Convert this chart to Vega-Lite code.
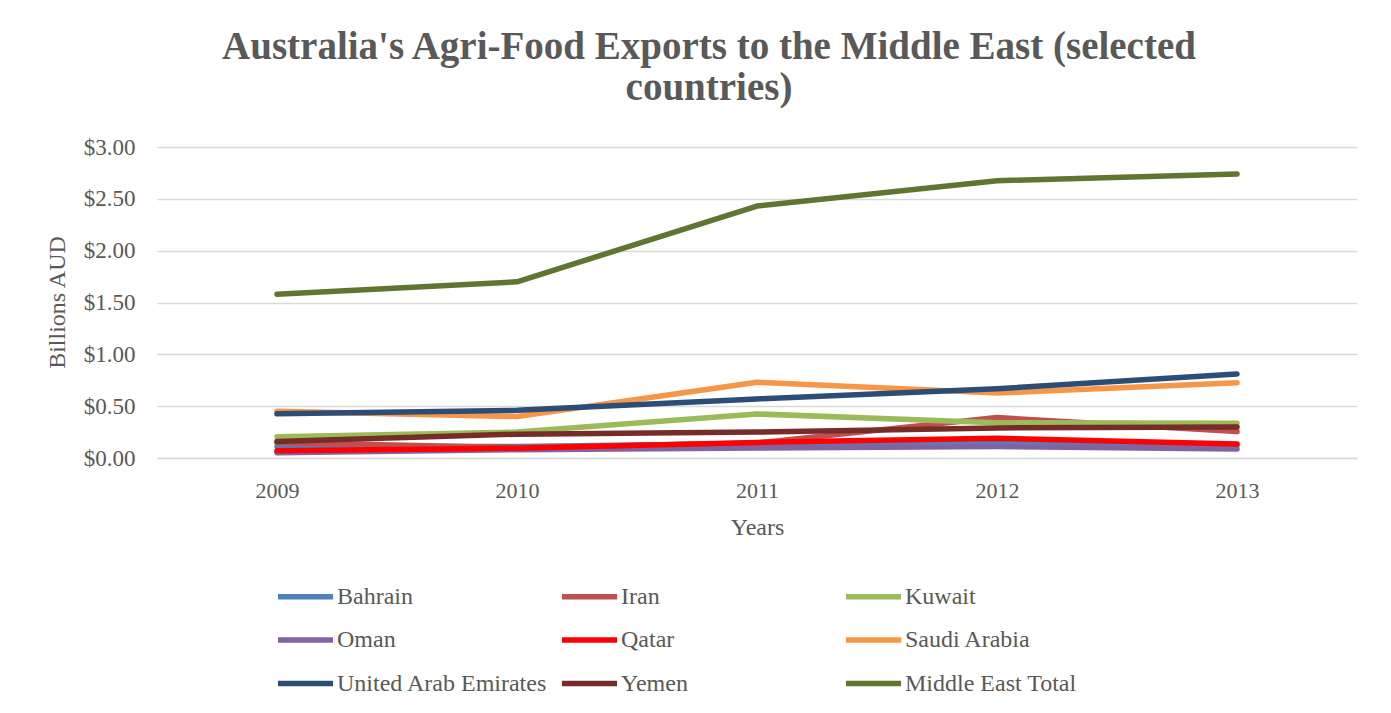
{
  "$schema": "https://vega.github.io/schema/vega-lite/v6.json",
  "width": 1200,
  "height": 311,
  "autosize": {"type": "none"},
  "padding": {"left": 157, "top": 147, "right": 34, "bottom": 255},
  "background": "white",
  "title": {
    "text": ["Australia's Agri-Food Exports to the Middle East (selected", "countries)"],
    "anchor": "middle",
    "dx": -48,
    "fontSize": 39,
    "fontWeight": "bold",
    "color": "#595959",
    "font": "Liberation Serif",
    "lineHeight": 41,
    "offset": 28
  },
  "data": {
    "values": [
      {"country": "Bahrain", "year": "2009", "value": 0.11},
      {"country": "Bahrain", "year": "2010", "value": 0.11},
      {"country": "Bahrain", "year": "2011", "value": 0.14},
      {"country": "Bahrain", "year": "2012", "value": 0.16},
      {"country": "Bahrain", "year": "2013", "value": 0.12},
      {"country": "Iran", "year": "2009", "value": 0.15},
      {"country": "Iran", "year": "2010", "value": 0.10},
      {"country": "Iran", "year": "2011", "value": 0.145},
      {"country": "Iran", "year": "2012", "value": 0.39},
      {"country": "Iran", "year": "2013", "value": 0.255},
      {"country": "Kuwait", "year": "2009", "value": 0.205},
      {"country": "Kuwait", "year": "2010", "value": 0.25},
      {"country": "Kuwait", "year": "2011", "value": 0.425},
      {"country": "Kuwait", "year": "2012", "value": 0.34},
      {"country": "Kuwait", "year": "2013", "value": 0.335},
      {"country": "Oman", "year": "2009", "value": 0.05},
      {"country": "Oman", "year": "2010", "value": 0.08},
      {"country": "Oman", "year": "2011", "value": 0.097},
      {"country": "Oman", "year": "2012", "value": 0.11},
      {"country": "Oman", "year": "2013", "value": 0.087},
      {"country": "Qatar", "year": "2009", "value": 0.07},
      {"country": "Qatar", "year": "2010", "value": 0.095},
      {"country": "Qatar", "year": "2011", "value": 0.15},
      {"country": "Qatar", "year": "2012", "value": 0.19},
      {"country": "Qatar", "year": "2013", "value": 0.135},
      {"country": "Saudi Arabia", "year": "2009", "value": 0.45},
      {"country": "Saudi Arabia", "year": "2010", "value": 0.40},
      {"country": "Saudi Arabia", "year": "2011", "value": 0.73},
      {"country": "Saudi Arabia", "year": "2012", "value": 0.626},
      {"country": "Saudi Arabia", "year": "2013", "value": 0.726},
      {"country": "United Arab Emirates", "year": "2009", "value": 0.426},
      {"country": "United Arab Emirates", "year": "2010", "value": 0.46},
      {"country": "United Arab Emirates", "year": "2011", "value": 0.57},
      {"country": "United Arab Emirates", "year": "2012", "value": 0.668},
      {"country": "United Arab Emirates", "year": "2013", "value": 0.81},
      {"country": "Yemen", "year": "2009", "value": 0.16},
      {"country": "Yemen", "year": "2010", "value": 0.23},
      {"country": "Yemen", "year": "2011", "value": 0.25},
      {"country": "Yemen", "year": "2012", "value": 0.29},
      {"country": "Yemen", "year": "2013", "value": 0.30},
      {"country": "Middle East Total", "year": "2009", "value": 1.58},
      {"country": "Middle East Total", "year": "2010", "value": 1.70},
      {"country": "Middle East Total", "year": "2011", "value": 2.43},
      {"country": "Middle East Total", "year": "2012", "value": 2.675},
      {"country": "Middle East Total", "year": "2013", "value": 2.74}
    ]
  },
  "mark": {"type": "line", "strokeWidth": 5.5, "strokeCap": "round", "strokeJoin": "round"},
  "encoding": {
    "x": {
      "field": "year",
      "type": "ordinal",
      "scale": {"type": "point", "padding": 0.5},
      "axis": {
        "title": "Years",
        "labelAngle": 0,
        "ticks": false,
        "grid": false,
        "domain": true,
        "domainColor": "#D9D9D9",
        "domainWidth": 1.5,
        "labelPadding": 22,
        "titlePadding": 14
      }
    },
    "y": {
      "field": "value",
      "type": "quantitative",
      "scale": {"domain": [0, 3]},
      "axis": {
        "title": "Billions AUD",
        "format": "$.2f",
        "values": [0, 0.5, 1, 1.5, 2, 2.5, 3],
        "ticks": false,
        "domain": false,
        "grid": true,
        "gridColor": "#D9D9D9",
        "gridWidth": 1.5,
        "labelPadding": 22,
        "labelFontSize": 23,
        "titleX": -100,
        "titleY": 155,
        "titleBaseline": "middle"
      }
    },
    "color": {
      "field": "country",
      "type": "nominal",
      "scale": {
        "domain": ["Bahrain", "Iran", "Kuwait", "Oman", "Qatar", "Saudi Arabia", "United Arab Emirates", "Yemen", "Middle East Total"],
        "range": ["#4F81BD", "#C0504D", "#9BBB59", "#8064A2", "#FF0000", "#F79646", "#2C4D75", "#772C2A", "#5F7530"]
      },
      "legend": {
        "title": null,
        "orient": "none",
        "direction": "horizontal",
        "legendX": 118,
        "legendY": 419,
        "columns": 3,
        "gridAlign": "all",
        "symbolType": "stroke",
        "symbolSize": 3025,
        "symbolStrokeWidth": 5.5,
        "labelFontSize": 24,
        "labelColor": "#595959",
        "labelFont": "Liberation Serif",
        "labelOffset": 1,
        "labelLimit": 400,
        "columnPadding": 3,
        "rowPadding": 0.5
      }
    }
  },
  "config": {
    "font": "Liberation Serif",
    "view": {"stroke": null},
    "axis": {
      "labelFont": "Liberation Serif",
      "titleFont": "Liberation Serif",
      "labelFontSize": 22,
      "titleFontSize": 24,
      "labelColor": "#595959",
      "titleColor": "#595959",
      "titleFontWeight": "normal"
    }
  }
}
